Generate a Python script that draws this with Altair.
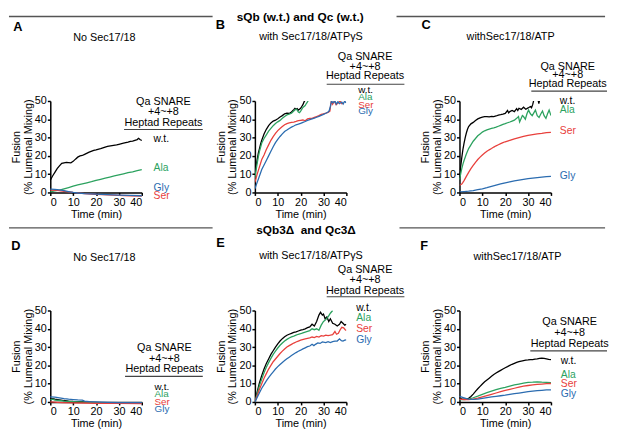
import altair as alt
import pandas as pd

FONT = "Liberation Sans"
SERIES = ["w.t.", "Ala", "Ser", "Gly"]
COLORS = ["#000000", "#2ca25f", "#e8403c", "#2b6cb0"]
XTICKS = [0, 10, 20, 30, 40]
YTICKS = [0, 10, 20, 30, 40, 50]

# ---------------- Panel A: sQb/Qc w.t., no Sec17/18 ----------------
a_wt_t = [0, 1, 2, 3, 4, 5, 6, 7, 8, 9, 10, 11, 12, 13, 14, 15, 17, 19, 20, 22, 24, 25, 27, 29, 30, 32, 34, 35, 36, 37, 38, 38.6, 39.2, 40]
a_wt_y = [6.7, 9, 11, 13, 14.5, 15.9, 16.2, 16.4, 16.3, 16.2, 17.0, 18.2, 19.3, 20.0, 20.2, 20.8, 22.0, 23.0, 23.3, 24.0, 24.8, 25.2, 25.6, 26.0, 26.3, 26.9, 27.5, 27.9, 28.1, 28.5, 28.9, 29.6, 28.9, 28.4]
a_ala_t = [0, 2, 4, 6, 8, 10, 12, 14, 16, 18, 20, 22, 24, 26, 28, 30, 32, 34, 36, 38, 39, 40]
a_ala_y = [0.3, 0.8, 1.3, 2.0, 2.7, 3.4, 4.1, 4.7, 5.3, 5.9, 6.6, 7.2, 7.8, 8.4, 9.0, 9.6, 10.2, 10.8, 11.3, 11.9, 12.2, 12.5]
a_ser_t = [0, 3, 6, 10, 15, 20, 25, 30, 35, 40]
a_ser_y = [1.3, 1.1, 0.6, 0.0, -0.6, -1.0, -1.3, -1.6, -1.8, -2.0]
a_gly_t = [0, 2, 4, 6, 8, 10, 12, 15, 20, 25, 30, 35, 40]
a_gly_y = [1.8, 1.7, 1.4, 1.0, 0.5, 0.0, -0.3, -0.6, -0.9, -1.2, -1.4, -1.6, -1.8]

# ---------------- Panel B: with Sec17/18/ATPgS ----------------
b_wt_t = [0, 0.5, 1, 1.5, 2, 2.5, 3, 4, 5, 6, 7, 8, 9, 10, 11, 12, 13, 14, 15, 16, 17, 17.5, 18, 18.5, 19, 19.5, 20, 20.5, 21, 21.5, 22]
b_wt_y = [10, 14, 18, 21.5, 24, 26.5, 28.5, 32, 34.5, 36.5, 38, 39, 39.5, 40.3, 41.2, 42, 43, 43.3, 43.2, 44, 45.3, 46, 45.5, 45.8, 45, 45.5, 46, 47, 48, 49.5, 50.5]
b_ala_t = [0, 0.5, 1, 1.5, 2, 3, 4, 5, 6, 7, 8, 9, 10, 11, 12, 13, 14, 15, 16, 17, 18, 18.5, 19, 19.5, 20, 21, 22, 22.5, 23, 23.3]
b_ala_y = [8, 12, 16, 19.5, 22.5, 27, 29.5, 31.5, 33.5, 35, 36.5, 37.7, 38.6, 39.4, 40.5, 41.5, 42.4, 42.8, 43.3, 44.5, 45.6, 45, 44, 43.6, 44.5, 46.5, 47.5, 48.6, 49.5, 50.2]
b_ser_t = [0, 1, 2, 3, 4, 5, 6, 7, 8, 9, 10, 11, 12, 13, 14, 15, 16, 17, 18, 19, 20, 21, 22, 23, 24, 25, 26, 27, 28, 29, 30, 31, 32, 32.8, 33.4, 34, 34.7, 35.5, 36.5, 37.2, 38, 38.9]
b_ser_y = [5.5, 10, 14, 18, 20.5, 23.5, 26, 28.5, 30.5, 32.3, 33.8, 35, 36, 37, 37.6, 38, 38.3, 38.5, 38.8, 39.2, 39.4, 39.6, 39.2, 40.2, 40.5, 40.5, 41, 41.5, 42, 42.7, 43, 43.3, 43.8, 44.5, 50, 48.2, 50, 48, 49, 50, 48.5, 49]
b_gly_t = [0, 1, 2, 3, 4, 5, 6, 7, 8, 9, 10, 11, 12, 13, 14, 15, 16, 17, 18, 19, 20, 21, 22, 23, 24, 25, 26, 27, 28, 29, 30, 31, 32, 32.5, 33, 33.5, 34.2, 35, 35.6, 36.3, 37, 38, 38.6, 39.3, 39.8]
b_gly_y = [2, 5.5, 9, 12.5, 15, 17.5, 20, 22.5, 25, 27.2, 29, 30.6, 32, 33.3, 34.1, 35, 35.7, 36.3, 37, 37.3, 37.8, 38.3, 38.8, 39.4, 39.8, 40.2, 40.6, 41.1, 41.6, 42.1, 42.7, 43.3, 44, 44.7, 47, 50, 49, 50, 48.3, 49.6, 48.6, 49.4, 48.3, 50, 49]

# ---------------- Panel C: with Sec17/18/ATP ----------------
c_wt_t = [0, 0.5, 1, 1.5, 2, 2.5, 3, 3.5, 4, 5, 6, 7, 8, 9, 10, 11, 12, 13, 14, 15, 16, 17, 18, 19, 20, 21, 21.5, 22, 23, 24, 25, 25.5, 26, 27, 28, 29, 30, 31, 31.5, 32, 32.5, 33.5, 34.3, 34.7, 35.1, 36]
c_wt_y = [8, 14, 19, 23.5, 27, 30, 32.5, 34.5, 36, 37.5, 38.3, 39.3, 40.2, 40.8, 41.2, 41.4, 41.5, 41.3, 41.6, 41.5, 41.8, 42.3, 42.5, 42.8, 43.2, 44.8, 43.5, 44.2, 44.8, 44.2, 45.8, 44.8, 46, 45.4, 46.6, 45.5, 46.2, 47, 46.3, 48, 50.5, 53, 51, 48.5, 51, 53]
c_ala_t = [0, 0.5, 1, 1.5, 2, 3, 4, 5, 6, 7, 8, 9, 10, 11, 12, 13, 14, 15, 16, 17, 18, 19, 20, 21, 22, 23, 24, 25, 25.8, 26.3, 27, 27.5, 28, 28.8, 29.5, 30.2, 31, 31.8, 32.5, 33.2, 34, 34.8, 35.6, 36.3, 37, 37.8, 38.5, 39.2, 40]
c_ala_y = [7, 10, 13, 15.5, 17.5, 21, 24, 26, 28, 29.5, 31, 32, 33, 33.7, 34.2, 34.6, 35, 35.3, 35.7, 36.2, 36.7, 37.2, 37.6, 38.1, 38.5, 39, 39.5, 40.5, 41.5, 38.5, 40.5, 42, 41.5, 40, 43, 45, 43, 42, 43.5, 45, 42, 41, 43, 44.5, 42, 40.5, 43, 45, 42]
c_ser_t = [0, 0.5, 1, 1.5, 2, 3, 4, 5, 6, 7, 8, 9, 10, 11, 12, 13, 14, 15, 16, 17, 18, 19, 20, 22, 24, 26, 28, 30, 32, 34, 36, 38, 40]
c_ser_y = [4, 4.2, 4.6, 5.5, 6.5, 8.8, 11, 13, 14.8, 16.5, 18, 19.3, 20.5, 21.5, 22.5, 23.3, 24, 24.8, 25.5, 26.1, 26.7, 27.2, 27.7, 28.5, 29.3, 30, 30.6, 31.2, 31.6, 32, 32.3, 32.7, 32.8]
c_gly_t = [0, 2, 4, 6, 8, 10, 12, 14, 16, 18, 20, 22, 24, 26, 28, 30, 32, 34, 36, 38, 40]
c_gly_y = [0.3, 0.5, 0.7, 1.0, 1.5, 2.0, 2.6, 3.3, 4.0, 4.7, 5.3, 5.8, 6.3, 6.7, 7.1, 7.5, 7.8, 8.1, 8.4, 8.6, 8.8]

# ---------------- Panel D: sQb3D/Qc3D, no Sec17/18 ----------------
d_wt_t = [0, 1, 2, 4, 6, 8, 10, 15, 20, 25, 30, 35, 40]
d_wt_y = [1.5, 1.8, 1.5, 1.2, 0.8, 0.5, 0.3, 0.0, -0.3, -0.4, -0.5, -0.6, -0.6]
d_ala_t = [0, 1, 2, 4, 6, 10, 15, 20, 30, 40]
d_ala_y = [1.2, 1.5, 1.0, 0.8, 0.5, 0.2, -0.1, -0.3, -0.4, -0.5]
d_ser_t = [0, 5, 10, 20, 30, 40]
d_ser_y = [0.0, -0.3, -0.5, -0.7, -0.8, -0.9]
d_gly_t = [0, 2, 4, 6, 8, 10, 12, 14, 15, 17, 20, 25, 30, 35, 40]
d_gly_y = [2.8, 2.6, 2.2, 1.8, 1.5, 1.3, 1.1, 1.0, 0.5, 0.2, 0.0, -0.2, -0.3, -0.3, -0.3]

# ---------------- Panel E: with Sec17/18/ATPgS ----------------
e_wt_t = [0, 1, 2, 3, 4, 5, 6, 7, 8, 9, 10, 11, 12, 13, 14, 15, 16, 17, 18, 19, 20, 21, 22, 23, 24, 25, 26, 27, 28, 28.7, 29.5, 30, 30.7, 31.5, 32.3, 33, 34, 35, 36, 37, 37.7, 38.5, 39.3, 40]
e_wt_y = [0, 5.5, 10.5, 14.5, 18, 21, 23.5, 26, 28, 30, 31.8, 33.3, 34.6, 35.6, 36.5, 37, 37.5, 38, 38.3, 38.8, 39.3, 39.6, 40, 40.6, 41, 42.5, 41.5, 44, 47.5, 49, 47.5, 48, 45.5, 46.5, 44, 45.5, 43, 42.5, 41.5, 42.5, 44, 43, 42, 42.5]
e_ala_t = [0, 1, 2, 3, 4, 5, 6, 7, 8, 9, 10, 11, 12, 13, 14, 15, 16, 17, 18, 19, 20, 21, 22, 23, 24, 25, 26, 27, 28, 29, 30, 31, 32, 33, 34]
e_ala_y = [0, 4.5, 9, 12.5, 16, 19, 21.5, 23.8, 26, 27.8, 29.5, 31, 32.2, 33.3, 34.2, 35, 35.6, 36, 36.5, 37, 37.3, 37.8, 38.2, 38.6, 39, 40, 39.5, 40, 39.2, 42, 44, 45, 46.5, 48.5, 50]
e_ser_t = [0, 1, 2, 3, 4, 5, 6, 7, 8, 9, 10, 11, 12, 13, 14, 15, 16, 17, 18, 19, 20, 22, 24, 25, 26, 27, 28, 29, 30, 31, 32, 33, 34, 35, 35.7, 36.5, 37.3, 38, 38.8, 39.5, 40]
e_ser_y = [0, 3.5, 7, 10, 13, 15.5, 18, 20, 22, 23.5, 25, 26.5, 27.8, 29, 30, 30.8, 31.5, 32.2, 32.8, 33.3, 33.8, 34.5, 35, 35.5, 35.2, 35.8, 35.5, 36.2, 36, 36.5, 36.3, 36.5, 36.8, 38.5, 37, 37.5, 39.5, 40.8, 40.5, 39.5, 39]
e_gly_t = [0, 1, 2, 3, 4, 5, 6, 7, 8, 9, 10, 11, 12, 13, 14, 15, 16, 17, 18, 19, 20, 21, 22, 23, 24, 25, 25.8, 26.5, 27.5, 28.5, 29.5, 31, 32, 33, 34, 35, 36, 37, 37.8, 38.5, 39.3, 40]
e_gly_y = [0, 2.5, 5, 7.5, 9.5, 11.5, 13.3, 15, 16.5, 18, 19.3, 20.5, 21.6, 22.6, 23.6, 24.5, 25.4, 26.2, 27, 27.7, 28.3, 29, 29.6, 30.2, 30.6, 31.5, 30.8, 31.5, 32.3, 32, 32.8, 32.5, 33, 32.5, 33, 33.2, 33.3, 34.5, 33.5, 33.3, 33.8, 34]

# ---------------- Panel F: with Sec17/18/ATP ----------------
f_wt_t = [0, 1, 2, 3, 4, 5, 6, 7, 8, 9, 10, 11, 12, 13, 14, 15, 16, 17, 18, 19, 20, 21, 22, 23, 24, 25, 26, 27, 28, 29, 30, 31, 32, 33, 34, 35, 36, 37, 38, 39, 40]
f_wt_y = [2.2, 1.6, 1.5, 1.6, 2, 3, 4.3, 5.8, 7.2, 8.5, 9.8, 11, 12, 13, 14, 15, 15.8, 16.6, 17.3, 18, 18.7, 19.3, 20, 20.6, 21.1, 21.6, 22, 22.3, 22.6, 22.9, 23, 23.2, 23.1, 23.4, 23.5, 23.8, 24, 23.8, 23.6, 23.3, 23.1]
f_ala_t = [0, 2, 4, 6, 8, 10, 12, 14, 16, 18, 20, 22, 24, 26, 28, 30, 32, 34, 36, 38, 40]
f_ala_y = [1.3, 1.3, 1.6, 2.3, 3.2, 4.2, 5.1, 5.9, 6.7, 7.4, 8.0, 8.7, 9.3, 9.8, 10.3, 10.7, 10.8, 11.0, 10.8, 10.7, 10.6]
f_ser_t = [0, 2, 4, 6, 8, 10, 12, 14, 16, 18, 20, 22, 24, 26, 28, 30, 32, 34, 36, 38, 40]
f_ser_y = [1.5, 1.3, 1.3, 1.6, 2.1, 2.8, 3.5, 4.2, 4.9, 5.6, 6.3, 6.9, 7.5, 8.1, 8.6, 9.0, 9.3, 9.6, 9.8, 10.0, 10.1]
f_gly_t = [0, 1, 2, 3, 4, 6, 8, 10, 12, 14, 16, 18, 20, 22, 24, 26, 28, 30, 32, 34, 36, 38, 40]
f_gly_y = [3, 2.6, 2.2, 1.8, 1.5, 1.4, 1.6, 2.0, 2.4, 2.8, 3.1, 3.4, 3.7, 4.1, 4.5, 4.9, 5.3, 5.6, 5.9, 6.2, 6.4, 6.6, 6.6]

W = 93
H = 93
ONE = alt.Data(values=[{}])


def frame(pairs):
    rows = []
    for name, (ts, ys) in zip(SERIES, pairs):
        for t, y in zip(ts, ys):
            rows.append({"t": t, "v": y, "series": name})
    return pd.DataFrame(rows)


def txt(s, x, y, size=11, weight="normal", color="black", align="center"):
    return alt.Chart(ONE).mark_text(
        text=s, font=FONT, fontSize=size, fontWeight=weight, color=color,
        align=align, baseline="middle"
    ).encode(x=alt.value(x), y=alt.value(y))


def hrule(x1, x2, y, color="#444444", width=1.2):
    return alt.Chart(ONE).mark_rule(color=color, strokeWidth=width).encode(
        x=alt.value(x1), x2=alt.value(x2), y=alt.value(y)
    )


def panel(pairs, clip, letter, letter_xy, title, title_xy, qa_x, qa_ys, ul, lab_x, lab_ys, lab_size=10.5, extra=()):
    df = frame(pairs)
    lines = alt.Chart(df).mark_line(strokeWidth=1.3, clip=clip).encode(
        x=alt.X("t:Q", scale=alt.Scale(domain=[0, 40], nice=False),
                axis=alt.Axis(values=XTICKS, title="Time (min)")),
        y=alt.Y("v:Q", scale=alt.Scale(domain=[0, 50], nice=False),
                axis=alt.Axis(values=YTICKS, title=["Fusion", "(% Lumenal Mixing)"])),
        color=alt.Color("series:N", scale=alt.Scale(domain=SERIES, range=COLORS), legend=None),
    )
    layers = [lines,
              txt(letter, letter_xy[0], letter_xy[1], size=13, weight="bold"),
              txt(title, title_xy[0], title_xy[1], size=11)]
    for s, yy in zip(["Qa SNARE", "+4~+8", "Heptad Repeats"], qa_ys):
        layers.append(txt(s, qa_x, yy, size=11))
    layers.append(hrule(ul[0], ul[1], ul[2]))
    for name, col, yy in zip(SERIES, COLORS, lab_ys):
        layers.append(txt(name, lab_x, yy, size=lab_size, color=col, align="left"))
    layers.extend(extra)
    return alt.layer(*layers).properties(width=W, height=H)


A = panel([(a_wt_t, a_wt_y), (a_ala_t, a_ala_y), (a_ser_t, a_ser_y), (a_gly_t, a_gly_y)], False,
          "A", (-33, -75), "No Sec17/18", (55, -64), 115, [1, 11, 22], (75, 155, 29), 105, [39, 68, 97, 89])
B = panel([(b_wt_t, b_wt_y), (b_ala_t, b_ala_y), (b_ser_t, b_ser_y), (b_gly_t, b_gly_y)], True,
          "B", (-35, -77), "with Sec17/18/ATPγS", (57, -65), 112, [-45, -35, -25], (73, 152, -17), 105,
          [-11, -4, 4, 10], lab_size=10,
          extra=[txt("sQb (w.t.) and Qc (w.t.)", 46, -85, size=12, weight="bold"),
                 hrule(-250, -43, -86, color="#555555", width=1.5),
                 hrule(144, 356, -86, color="#555555", width=1.5)])
C = panel([(c_wt_t, c_wt_y), (c_ala_t, c_ala_y), (c_ser_t, c_ser_y), (c_gly_t, c_gly_y)], True,
          "C", (-34, -77), "withSec17/18/ATP", (52, -65), 110, [-35, -26, -17], (73, 150, -10), 102, [0, 9, 31, 76])
D = panel([(d_wt_t, d_wt_y), (d_ala_t, d_ala_y), (d_ser_t, d_ser_y), (d_gly_t, d_gly_y)], False,
          "D", (-35, -65), "No Sec17/18", (55, -53), 116, [38, 49, 60], (76, 155, 67), 106,
          [78, 85, 93, 100], lab_size=10)
E = panel([(e_wt_t, e_wt_y), (e_ala_t, e_ala_y), (e_ser_t, e_ser_y), (e_gly_t, e_gly_y)], True,
          "E", (-35, -69), "with Sec17/18/ATPγS", (57, -55), 112, [-41, -31, -20], (73, 152, -14), 103, [-2, 8, 19, 30],
          extra=[txt("sQb3Δ\u00a0 and Qc3Δ", 52, -82, size=12, weight="bold"),
                 hrule(-250, -43, -84, color="#555555", width=1.5),
                 hrule(147, 356, -84, color="#555555", width=1.5)])
F = panel([(f_wt_t, f_wt_y), (f_ala_t, f_ala_y), (f_ser_t, f_ser_y), (f_gly_t, f_gly_y)], False,
          "F", (-36, -65), "withSec17/18/ATP", (59, -54), 112, [12, 23, 34], (72, 150, 41), 103, [51, 66, 75, 85])

chart = alt.concat(A, B, C, D, E, F, columns=3, spacing={"row": 120, "column": 115}, bounds="flush").properties(
    padding=0
).configure_view(stroke=None).configure_axis(
    grid=False, domainColor="black", domainWidth=1.5, tickColor="black", tickWidth=1.5, tickSize=3,
    labelFont=FONT, labelFontSize=11, labelColor="black", labelPadding=1,
    titleFont=FONT, titleFontSize=11, titleFontWeight="normal", titleColor="black",
    titlePadding=1, titleLineHeight=12,
)

chart.save("out.html", embed_options={"renderer": "svg", "actions": False})
